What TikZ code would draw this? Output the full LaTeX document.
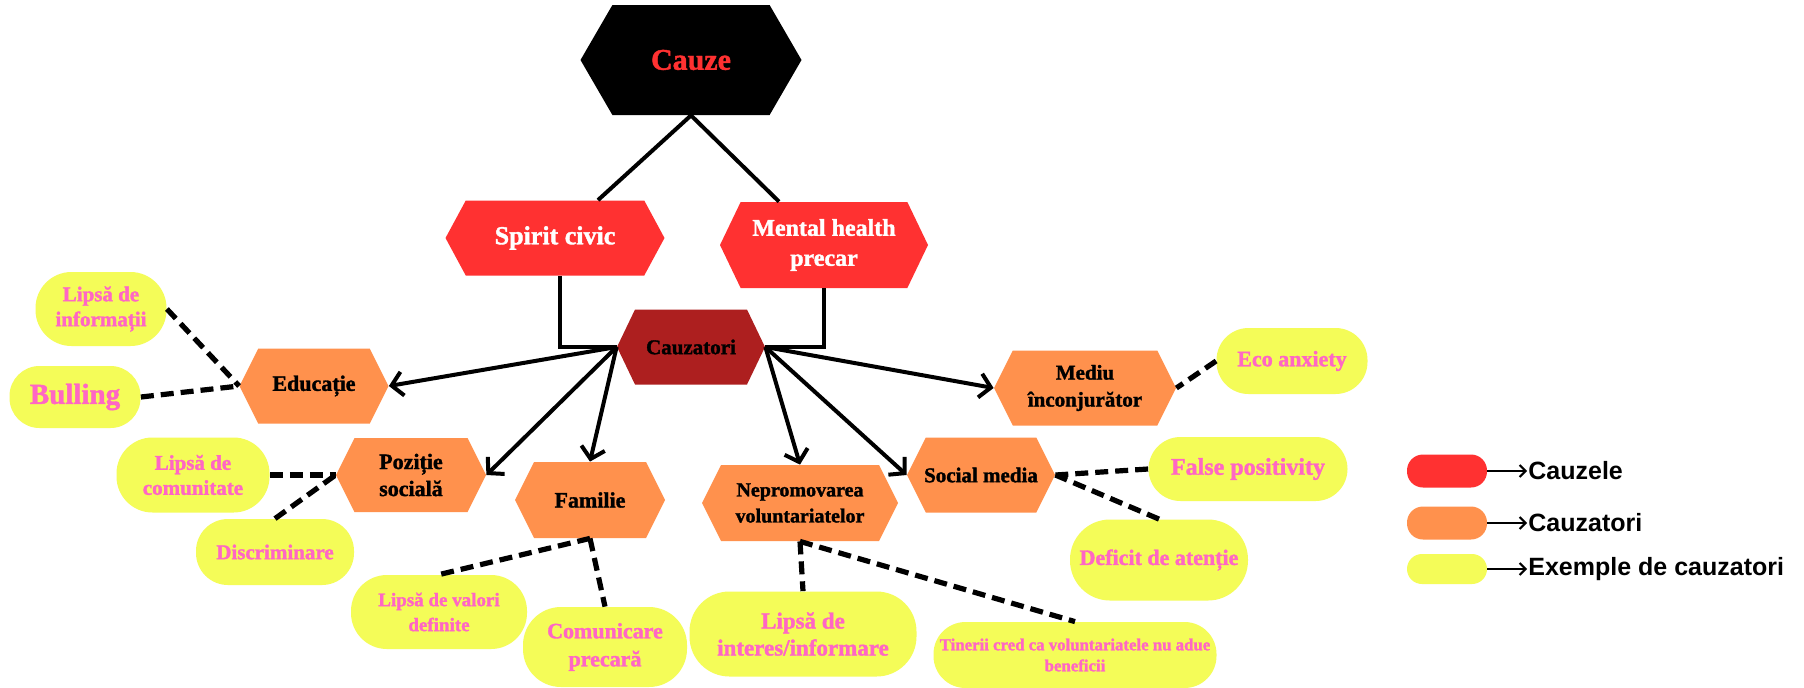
\documentclass[tikz,border=0pt]{standalone}
\usepackage{fontspec}
\setmainfont{Liberation Serif}[BoldFeatures={FakeBold=1.5}]
\newfontfamily\legfont{Liberation Sans}
\usetikzlibrary{arrows.meta,calc}
\definecolor{cred}{HTML}{FF3131}
\definecolor{corange}{HTML}{FF914D}
\definecolor{cyellow}{HTML}{F4FC58}
\definecolor{cpink}{HTML}{FF66C4}
\definecolor{cdark}{HTML}{AD1F1F}
\newcommand\myfs[2]{\fontsize{#1}{#2}\selectfont\bfseries}
\def\hexc{corange}\def\hexd{0.25}
\tikzset{
  hc/.code={\def\hexc{#1}},
  hd/.code={\def\hexd{#1}},
  sz/.style 2 args={minimum width=#1*0.5pt, minimum height=#2*0.5pt},
  hexa/.style={rectangle, inner sep=0pt, align=center, text=black,
    path picture={
      \fill[fill=\hexc] let \p1=(path picture bounding box.south west),
        \p2=(path picture bounding box.north east),
        \n1={\hexd*(\y2-\y1)} in
        (\x1,{0.5*(\y1+\y2)}) -- ({\x1+\n1},\y1) -- ({\x2-\n1},\y1) --
        (\x2,{0.5*(\y1+\y2)}) -- ({\x2-\n1},\y2) -- ({\x1+\n1},\y2) -- cycle;
    }},
  pill/.style={rectangle, fill=cyellow, inner sep=0pt, align=center, text=cpink},
  conn/.style={line width=2pt, draw=black},
  arr/.style={conn, -{Straight Barb[length=5.5pt,width=12pt]}},
  dsh/.style={line width=2.6pt, draw=black, dash pattern=on 6.5pt off 3.5pt},
  legtext/.style={inner sep=0.5pt, anchor=west, font=\legfont\bfseries\fontsize{12.5}{15}\selectfont},
  larr/.style={line width=1pt, -{Straight Barb[length=3pt,width=6pt]}},
}
\begin{document}
\begin{tikzpicture}[x=0.5pt,y=-0.5pt]
\fill[white] (0,0) rectangle (1804,687);
\useasboundingbox (0,0) rectangle (1804,687);

% top level
\node[hexa, hc=black, hd=0.29, sz={221}{110}, font=\myfs{15}{18}, text=cred] (cauze) at (691,60) {Cauze};
\node[hexa, hc=cred, hd=0.27, sz={219}{75}, font=\myfs{13}{16}, text=white] (sc) at (555,238) {Spirit civic};
\node[hexa, hc=cred, hd=0.24, sz={208}{86}, font=\myfs{12}{15}, text=white] (mh) at (824,245) {Mental health\\precar};
\node[hexa, hc=cdark, hd=0.24, sz={148}{75}, font=\myfs{10.5}{13}] (cz) at (691,347) {Cauzatori};

% orange
\node[hexa, sz={149}{75}, font=\myfs{11}{14}] (edu) at (314,386) {Educație};
\node[hexa, sz={150}{74}, font=\myfs{11}{13.5}] (poz) at (411,475) {Poziție\\socială};
\node[hexa, sz={150}{76}, font=\myfs{11}{14}] (fam) at (590,500) {Familie};
\node[hexa, sz={196}{76}, font=\myfs{10}{13}] (nep) at (800,503) {Nepromovarea\\voluntariatelor};
\node[hexa, sz={148}{75}, font=\myfs{10.5}{13}] (soc) at (981,475) {Social media};
\node[hexa, sz={182}{75}, font=\myfs{10.5}{13.5}] (med) at (1085,388) {Mediu\\înconjurător};

% yellow
\node[pill, sz={131}{74}, rounded corners=18pt, font=\myfs{10.5}{12.5}] (li) at (101,309) {Lipsă de\\informații};
\node[pill, sz={131}{62}, rounded corners=15pt, font=\myfs{14.5}{17}] (bul) at (75,397) {Bulling};
\node[pill, sz={153}{75}, rounded corners=18pt, font=\myfs{10.5}{12.5}] (lc) at (193,475) {Lipsă de\\comunitate};
\node[pill, sz={158}{66}, rounded corners=16pt, font=\myfs{10.5}{13}] (dis) at (275,552) {Discriminare};
\node[pill, sz={176}{74}, rounded corners=18pt, font=\myfs{9.5}{12.5}] (lv) at (439,612) {Lipsă de valori\\definite};
\node[pill, sz={164}{80}, rounded corners=19pt, font=\myfs{11}{14}] (cp) at (605,647) {Comunicare\\precară};
\node[pill, sz={227}{85}, rounded corners=20pt, font=\myfs{11.5}{13.5}] (lii) at (803,634) {Lipsă de\\interes/informare};
\node[pill, sz={283}{66}, rounded corners=16pt, font=\myfs{8.4}{10.5}] (tin) at (1075,655) {Tinerii cred ca voluntariatele nu adue\\beneficii};
\node[pill, sz={199}{64}, rounded corners=16pt, font=\myfs{12}{14}] (fp) at (1248,469) {False positivity};
\node[pill, sz={178}{81}, rounded corners=20pt, font=\myfs{11}{14}] (da) at (1159,560) {Deficit de atenție};
\node[pill, sz={151}{66}, rounded corners=16pt, font=\myfs{11}{14}] (eco) at (1292,361) {Eco anxiety};

% solid connectors
\draw[conn] (cauze.south) -- ($(sc.north)+(43,0)$);
\draw[conn] (cauze.south) -- ($(mh.north)+(-45,0)$);
\draw[conn] ($(sc.south)+(5,0)$) |- (cz.west);
\draw[conn] (mh.south) |- (cz.east);
\draw[arr] (cz.west) -- (edu.east);
\draw[arr] (cz.west) -- (poz.east);
\draw[arr] (cz.west) -- (fam.north);
\draw[arr] (cz.east) -- (nep.north);
\draw[arr] (cz.east) -- (soc.west);
\draw[arr] (cz.east) -- (med.west);

% dashed connectors
\draw[dsh] (li.east) -- (edu.west);
\draw[dsh] (bul.east) -- (edu.west);
\draw[dsh] (lc.east) -- (poz.west);
\draw[dsh] (dis.north) -- (poz.west);
\draw[dsh] (fam.south) -- (lv.north);
\draw[dsh] (fam.south) -- (cp.north);
\draw[dsh] (nep.south) -- (lii.north);
\draw[dsh] (nep.south) -- (tin.north);
\draw[dsh] (fp.west) -- (soc.east);
\draw[dsh] (da.north) -- (soc.east);
\draw[dsh] (eco.west) -- (med.east);

% legend
\node[pill, fill=cred, sz={80}{33}, rounded corners=8pt] (lg1) at (1447,471) {};
\node[pill, fill=corange, sz={80}{33}, rounded corners=8pt] (lg2) at (1447,523) {};
\node[pill, fill=cyellow, sz={80}{30}, rounded corners=7.5pt] (lg3) at (1447,569) {};
\node[legtext] (lg1t) at (1527,471) {Cauzele};
\node[legtext] (lg2t) at (1527,523) {Cauzatori};
\node[legtext] (lg3t) at (1527,569) {Exemple de cauzatori};
\draw[larr] (lg1) -- (lg1t);
\draw[larr] (lg2) -- (lg2t);
\draw[larr] (lg3) -- (lg3t);
\end{tikzpicture}
\end{document}
